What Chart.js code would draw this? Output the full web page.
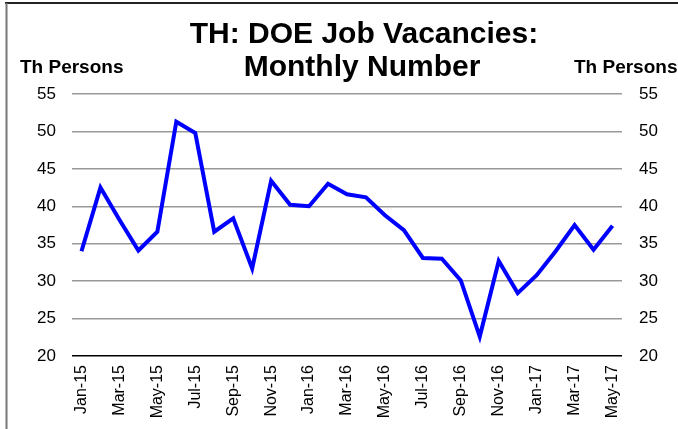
<!DOCTYPE html>
<html>
<head>
<meta charset="utf-8">
<script src="https://cdn.jsdelivr.net/npm/chart.js@4/dist/chart.umd.min.js"></script>
<style>
  html, body { margin: 0; padding: 0; background: #fff; }
  #wrap { position: relative; width: 678px; height: 429px; }
</style>
</head>
<body>
<div id="wrap"><canvas id="c" width="678" height="429"></canvas></div>
<script>
const months = ['Jan-15','Feb-15','Mar-15','Apr-15','May-15','Jun-15','Jul-15','Aug-15','Sep-15','Oct-15','Nov-15','Dec-15',
                'Jan-16','Feb-16','Mar-16','Apr-16','May-16','Jun-16','Jul-16','Aug-16','Sep-16','Oct-16','Nov-16','Dec-16',
                'Jan-17','Feb-17','Mar-17','Apr-17','May-17'];
const vacancies = [34.0, 42.5, 38.2, 34.1, 36.6, 51.3, 49.8, 36.6, 38.4, 31.7, 43.4, 40.2,
                   40.0, 43.0, 41.6, 41.2, 38.8, 36.8, 33.1, 33.0, 30.1, 22.6, 32.7, 28.4,
                   30.8, 34.0, 37.5, 34.2, 37.4];
const yTicks = [20, 25, 30, 35, 40, 45, 50, 55];
const titleLines = ['TH: DOE Job Vacancies:', 'Monthly Number'];
const axisUnit = 'Th Persons';

const FONT = "'Liberation Sans', Arial, sans-serif";

const decor = {
  id: 'decor',
  beforeDraw(chart) {
    const ctx = chart.ctx;
    ctx.save();
    ctx.fillStyle = '#fff';
    ctx.fillRect(0, 0, chart.width, chart.height);
    ctx.strokeStyle = '#222';
    ctx.lineWidth = 2;
    ctx.beginPath(); ctx.moveTo(5, 3); ctx.lineTo(chart.width, 3); ctx.stroke();
    ctx.strokeStyle = '#777';
    ctx.beginPath(); ctx.moveTo(6.5, 3); ctx.lineTo(6.5, chart.height); ctx.stroke();
    ctx.restore();
  },
  afterDraw(chart) {
    const ctx = chart.ctx;
    ctx.save();
    ctx.fillStyle = '#000';
    ctx.textBaseline = 'alphabetic';
    ctx.textAlign = 'center';
    ctx.font = 'bold 30px ' + FONT;
    ctx.fillText(titleLines[0], 364, 43);
    ctx.fillText(titleLines[1], 362, 76);
    ctx.font = 'bold 19px ' + FONT;
    ctx.textAlign = 'left';
    ctx.fillText(axisUnit, 20, 73);
    ctx.fillText(axisUnit, 574, 73);
    ctx.restore();
  }
};

new Chart(document.getElementById('c'), {
  type: 'line',
  data: {
    labels: months,
    datasets: [{
      data: vacancies,
      borderColor: '#0000FF',
      borderWidth: 4,
      pointRadius: 0,
      tension: 0,
      fill: false,
      yAxisID: 'y'
    }]
  },
  options: {
    responsive: false,
    animation: false,
    devicePixelRatio: 1,
    layout: { padding: { top: 94, left: 0, right: 0, bottom: 0 } },
    plugins: { legend: { display: false }, tooltip: { enabled: false }, title: { display: false } },
    scales: {
      x: {
        offset: true,
        grid: { display: false, drawTicks: false },
        border: { display: false },
        afterFit(s) { s.height = 73; },
        ticks: {
          autoSkip: false,
          minRotation: 90, maxRotation: 90,
          padding: 9,
          color: '#000',
          font: { family: FONT, size: 16 },
          callback(v, i) { return i % 2 === 0 ? months[i] : ''; }
        }
      },
      y: {
        position: 'left',
        min: 20, max: 55,
        afterBuildTicks(s) { s.ticks = yTicks.map(v => ({ value: v })); },
        afterFit(s) { s.width = 72; },
        border: { display: false },
        grid: {
          drawTicks: false,
          lineWidth: 1.5,
          color(c) { return c.tick && c.tick.value === 20 ? '#000' : '#999'; }
        },
        ticks: { padding: 16, color: '#000', font: { family: FONT, size: 17 } }
      },
      y2: {
        position: 'right',
        min: 20, max: 55,
        afterBuildTicks(s) { s.ticks = yTicks.map(v => ({ value: v })); },
        afterFit(s) { s.width = 56; },
        border: { display: false },
        grid: { display: false, drawTicks: false },
        ticks: { padding: 17, color: '#000', font: { family: FONT, size: 17 } }
      }
    }
  },
  plugins: [decor]
});
</script>
</body>
</html>
